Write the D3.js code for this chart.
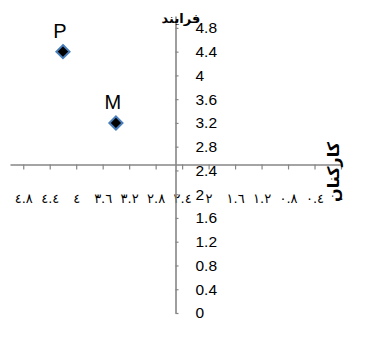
<!DOCTYPE html>
<html>
<head>
<meta charset="utf-8">
<script src="https://cdn.jsdelivr.net/npm/d3@7"></script>
<style>
  html, body { margin: 0; padding: 0; background: #fff; }
  svg { display: block; }
</style>
</head>
<body>
<svg id="chart" width="365" height="349"></svg>
<script>
// Series: two labelled points
const pointNames = ["P", "M"];
const pointX = [4.2, 3.4];
const pointY = [4.4, 3.2];

// Axis ticks and their labels
const xTickValues = [0, 0.4, 0.8, 1.2, 1.6, 2, 2.4, 2.8, 3.2, 3.6, 4, 4.4, 4.8];
const xTickLabels = ["٠", "٠.٤", "٠.٨", "١.٢", "١.٦", "٢", "٢.٤", "٢.٨", "٣.٢", "٣.٦", "٤", "٤.٤", "٤.٨"];
const yTickValues = [0, 0.4, 0.8, 1.2, 1.6, 2, 2.4, 2.8, 3.2, 3.6, 4, 4.4, 4.8];
const yTickLabels = ["0", "0.4", "0.8", "1.2", "1.6", "2", "2.4", "2.8", "3.2", "3.6", "4", "4.4", "4.8"];

const xDomain = [0, 5];
const yDomain = [0, 5];
const crossAt = 2.5;

const xTitle = "کارکنان";
const yTitle = "فرایند";

const svg = d3.select("#chart");

// x runs right-to-left
const x = d3.scaleLinear().domain(xDomain).range([341, 10]);
const y = d3.scaleLinear().domain(yDomain).range([313, 16]);

const axisColor = "#868686";

const xAxis = d3.axisBottom(x)
  .tickValues(xTickValues)
  .tickFormat((d, i) => xTickLabels[i])
  .tickSizeInner(5)
  .tickSizeOuter(0)
  .tickPadding(24);

const yAxis = d3.axisRight(y)
  .tickValues(yTickValues)
  .tickFormat((d, i) => yTickLabels[i])
  .tickSizeInner(3)
  .tickSizeOuter(0)
  .tickPadding(17);

const gx = svg.append("g")
  .attr("transform", `translate(0,${y(crossAt)})`)
  .call(xAxis);
gx.selectAll("text")
  .attr("font-family", "'DejaVu Sans', sans-serif")
  .attr("font-size", 13)
  .attr("fill", "#000");

const gy = svg.append("g")
  .attr("transform", `translate(${x(crossAt)},0)`)
  .call(yAxis);
gy.selectAll("text")
  .attr("font-family", "'Liberation Sans', Arial, sans-serif")
  .attr("font-size", 15.5)
  .attr("fill", "#000");

[gx, gy].forEach(g => {
  g.select(".domain").attr("stroke", axisColor).attr("stroke-width", 1.6);
  g.selectAll(".tick line").attr("stroke", axisColor).attr("stroke-width", 1.2);
});

// Points: black diamonds with blue outline
const pts = pointNames.map((n, i) => ({ name: n, x: pointX[i], y: pointY[i] }));
const diamond = d3.symbol().type(d3.symbolDiamond2).size(110);

svg.append("g").selectAll("path")
  .data(pts)
  .join("path")
  .attr("d", diamond)
  .attr("transform", d => `translate(${x(d.x)},${y(d.y)})`)
  .attr("fill", "#000")
  .attr("stroke", "#4a7ebb")
  .attr("stroke-width", 2);

svg.append("g").selectAll("text")
  .data(pts)
  .join("text")
  .attr("x", d => x(d.x) - 3)
  .attr("y", d => y(d.y) - 14)
  .attr("text-anchor", "middle")
  .attr("font-family", "'Liberation Sans', Arial, sans-serif")
  .attr("font-size", 20)
  .attr("fill", "#000")
  .text(d => d.name);

// Axis titles
svg.append("text")
  .attr("x", 181)
  .attr("y", 23)
  .attr("text-anchor", "middle")
  .attr("font-family", "'DejaVu Sans', sans-serif")
  .attr("font-weight", "bold")
  .attr("font-size", 13)
  .attr("fill", "#000")
  .text(yTitle);

svg.append("text")
  .attr("transform", "translate(339,172) rotate(-90)")
  .attr("text-anchor", "middle")
  .attr("font-family", "'DejaVu Sans', sans-serif")
  .attr("font-weight", "bold")
  .attr("font-size", 16)
  .attr("fill", "#000")
  .text(xTitle);
</script>
</body>
</html>
